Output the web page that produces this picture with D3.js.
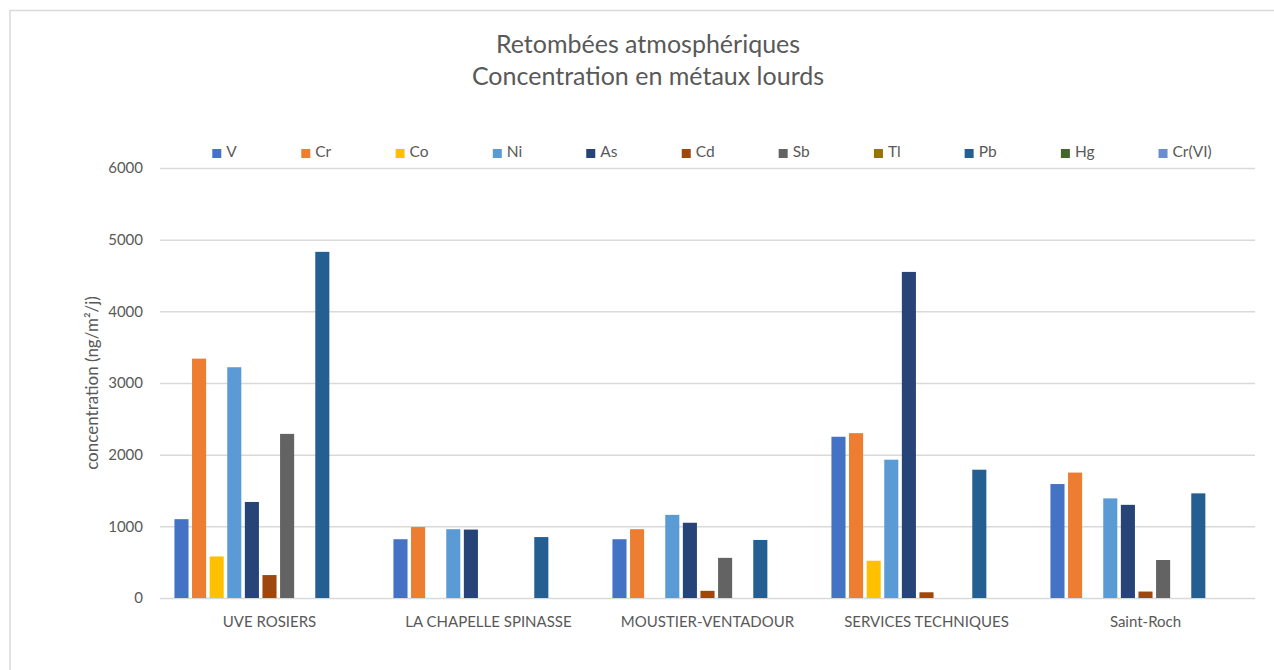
<!DOCTYPE html>
<html>
<head>
<meta charset="utf-8">
<script src="https://cdn.jsdelivr.net/npm/d3@7/dist/d3.min.js"></script>
<style>
  html, body { margin: 0; padding: 0; background: #fff; }
  svg { display: block; }
  text { font-family: Lato, "Open Sans", sans-serif; fill: #595959; }
</style>
</head>
<body>
<svg id="chart" width="1274" height="670"></svg>
<script>
// Sites where deposition was measured
const sites = ["UVE ROSIERS", "LA CHAPELLE SPINASSE", "MOUSTIER-VENTADOUR", "SERVICES TECHNIQUES", "Saint-Roch"];

// Metals (series), in legend order
const metals = ["V", "Cr", "Co", "Ni", "As", "Cd", "Sb", "Tl", "Pb", "Hg", "Cr(VI)"];
const metalColors = ["#4472C4", "#ED7D31", "#FFC000", "#5B9BD5", "#264478", "#9E480E",
                     "#636363", "#997300", "#255E91", "#43682B", "#698ED0"];

// Deposition per metal, one value per site (ng/m²/j); null = not reported
const V     = [1100,  820,  820, 2250, 1590];
const Cr    = [3340,  990,  960, 2300, 1750];
const Co    = [ 580, null, null,  520, null];
const Ni    = [3220,  960, 1160, 1930, 1390];
const As    = [1340,  955, 1050, 4550, 1300];
const Cd    = [ 320, null,  100,   80,   90];
const Sb    = [2290, null,  560, null,  530];
const Tl    = [null, null, null, null, null];
const Pb    = [4830,  850,  810, 1790, 1460];
const Hg    = [null, null, null, null, null];
const CrVI  = [null, null, null, null, null];
const seriesValues = [V, Cr, Co, Ni, As, Cd, Sb, Tl, Pb, Hg, CrVI];

// Y axis ticks
const yTicks = [0, 1000, 2000, 3000, 4000, 5000, 6000];

const titleLines = ["Retombées atmosphériques", "Concentration en métaux lourds"];
const yTitle = "concentration (ng/m²/j)";

const svg = d3.select("#chart");
const W = 1274, H = 670;
const plot = { left: 160, right: 1255, top: 168, bottom: 598 };

// Chart frame
svg.append("rect")
  .attr("x", 10).attr("y", 10.5)
  .attr("width", W + 20).attr("height", H + 20)
  .attr("fill", "#fff").attr("stroke", "#d9d9d9").attr("stroke-width", 1.5);

// Title
svg.append("g").selectAll("text").data(titleLines).join("text")
  .attr("x", 648).attr("y", (d, i) => 53 + i * 32)
  .attr("text-anchor", "middle")
  .style("font-size", "25px")
  .text(d => d);

// Scales
const x0 = d3.scaleBand().domain(sites).range([plot.left, plot.right]).padding(0);
const x1 = d3.scaleBand().domain(metals).range([0, x0.bandwidth()])
  .paddingInner(0.2).paddingOuter(0.82);
const y = d3.scaleLinear().domain([0, 6000]).range([plot.bottom, plot.top]);

// Gridlines + y tick labels
const yAxis = svg.append("g")
  .attr("transform", `translate(${plot.left},0)`)
  .call(d3.axisLeft(y).tickValues(yTicks).tickSize(-(plot.right - plot.left)).tickPadding(17).tickFormat(d3.format("d")));
yAxis.select(".domain").remove();
yAxis.selectAll(".tick line").attr("stroke", "#d9d9d9").attr("stroke-width", 1.5);
yAxis.selectAll(".tick text")
  .style("font-family", "Lato, 'Open Sans', sans-serif")
  .style("font-size", "15px").attr("fill", "#595959");

// Bars
const rows = [];
metals.forEach((m, si) => {
  sites.forEach((s, ci) => {
    const v = seriesValues[si][ci];
    if (v != null) rows.push({ metal: m, site: s, value: v, color: metalColors[si] });
  });
});
svg.append("g").selectAll("rect").data(rows).join("rect")
  .attr("x", d => x0(d.site) + x1(d.metal))
  .attr("y", d => y(d.value))
  .attr("width", x1.bandwidth())
  .attr("height", d => y(0) - y(d.value))
  .attr("fill", d => d.color);

// Category labels
const xAxis = svg.append("g")
  .attr("transform", `translate(0,${plot.bottom})`)
  .call(d3.axisBottom(x0).tickSize(0).tickPadding(18));
xAxis.select(".domain").remove();
xAxis.selectAll(".tick text")
  .style("font-family", "Lato, 'Open Sans', sans-serif")
  .style("font-size", "15px").attr("fill", "#595959");

// Y axis title
svg.append("text")
  .attr("transform", `translate(98,${(plot.top + plot.bottom) / 2}) rotate(-90)`)
  .attr("text-anchor", "middle")
  .style("font-size", "17px")
  .text(yTitle);

// Legend: entries flow left to right with a fixed gap, centred above the plot
const legend = svg.append("g");
const items = legend.selectAll("g").data(metals).join("g");
items.append("rect").attr("width", 9).attr("height", 9).attr("y", -8)
  .attr("fill", (d, i) => metalColors[i]);
items.append("text").attr("x", 14).attr("y", 0)
  .style("font-size", "15.5px").text(d => d);
let cursor = 0;
const gap = 64;
items.each(function () {
  const w = this.getBBox().width;
  d3.select(this).attr("data-w", w);
});
items.attr("transform", function () {
  const w = +this.getAttribute("data-w");
  const t = `translate(${cursor},157)`;
  cursor += w + gap;
  return t;
});
const total = cursor - gap;
legend.attr("transform", `translate(${712 - total / 2},0)`);
</script>
</body>
</html>
